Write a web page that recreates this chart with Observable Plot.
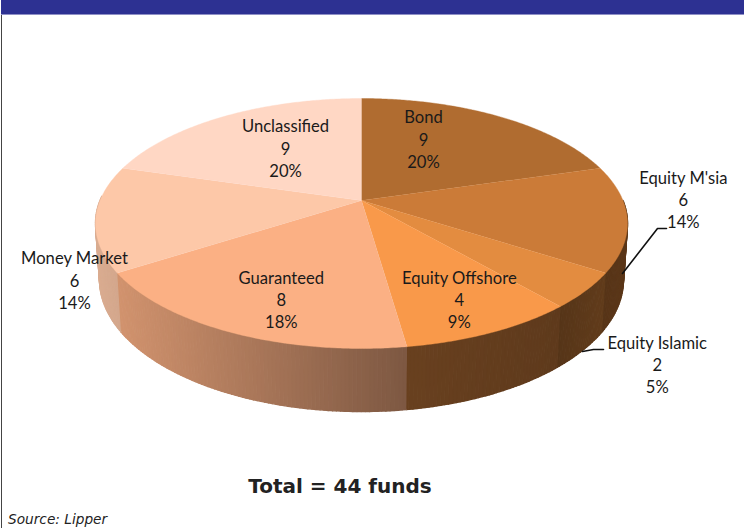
<!DOCTYPE html>
<html>
<head>
<meta charset="utf-8">
<script src="https://cdn.jsdelivr.net/npm/d3@7"></script>
<script src="https://cdn.jsdelivr.net/npm/@observablehq/plot@0.6"></script>
<style>
  html, body { margin: 0; padding: 0; background: #fff; }
  #page { position: relative; width: 744px; height: 528px; overflow: hidden; background: #fff; }
  #band { position: absolute; left: 1px; right: 0; top: 0; height: 14px; background: #2d3192; border-bottom: 1px solid #8f90c6; }
  #rule { position: absolute; left: 1px; top: 15px; bottom: 0; width: 1px; background: #444; }
  #chart { position: absolute; left: 0; top: 15px; }
  #chart svg { display: block; }
  #title { position: absolute; left: 0; width: 680px; top: 474px; text-align: center; font: bold 20px "DejaVu Sans", sans-serif; color: #222; white-space: pre; }
  #source { position: absolute; left: 8px; top: 511px; font: italic 13.7px "DejaVu Sans", sans-serif; color: #222; }
</style>
</head>
<body>
<div id="page">
  <div id="band"></div>
  <div id="rule"></div>
  <div id="chart"></div>
  <div id="title">Total = 44 funds</div>
  <div id="source">Source: Lipper</div>
</div>
<script>
// Chart values
const categories = ["Bond", "Equity M'sia", "Equity Islamic", "Equity Offshore", "Guaranteed", "Money Market", "Unclassified"];
const funds = [9, 6, 2, 4, 8, 6, 9];
const percents = [20, 14, 5, 9, 18, 14, 20];
const topColors = ["#b06c30", "#cb7b38", "#e38c40", "#f9994a", "#fbb084", "#fdc8a8", "#ffd7c4"];

// Drawing layout: the tilted disc, its base, and where each label sits in disc terms
const tilt = -0.184;
const topEllipse = {cx: 361, cy: 223, rx: 266, ry: 125};
const baseEllipse = {cx: 361, cy: 279, rx: 262, ry: 132};
const labelPolar = [[0.606, 25.5], [1.231, 90], [1.42, 140.5], [0.789, 155.7], [0.767, 200.3], [1.145, 238.6], [0.556, 325.5]];
const labelLift = -2;
const leaders = [
  [[622, 273], [657, 228], [666, 228]],
  [[582, 351], [593, 349], [603, 349]]
];
const sideShade = d3.scaleLinear().domain([95, 405, 407, 560, 625]).range([0.86, 0.5, 0.42, 0.38, 0.45]);

function project(e, r, deg) {
  const t = deg * Math.PI / 180, u = r * Math.sin(t), v = -r * Math.cos(t);
  const d = 1 + tilt * v;
  return {x: e.cx + e.rx * u * Math.sqrt(1 - tilt * tilt) / d, y: e.cy + e.ry * (v + tilt) / d};
}

const total = d3.sum(funds);
let running = 0;
const slices = funds.map((f, i) => {
  const start = running / total * 360;
  running += f;
  return {i, start, end: running / total * 360};
});

// Top faces
const topRows = [];
slices.forEach(s => {
  topRows.push({id: s.i, x: topEllipse.cx, y: project(topEllipse, 0, 0).y, c: topColors[s.i]});
  for (let a = s.start; ; a += 0.5) {
    const t = Math.min(a, s.end), p = project(topEllipse, 1, t);
    topRows.push({id: s.i, x: p.x, y: p.y, c: topColors[s.i]});
    if (a >= s.end) break;
  }
});

// Side wall: narrow quads, shaded across the width
const sideRows = [];
slices.forEach(s => {
  const from = Math.max(s.start, 90), to = Math.min(s.end, 272);
  if (from >= to) return;
  for (let a = from; a < to; a += 0.75) {
    const b = Math.min(a + 0.75, to);
    const p1 = project(topEllipse, 1, a), p2 = project(topEllipse, 1, b);
    const q2 = project(baseEllipse, 1, b), q1 = project(baseEllipse, 1, a);
    const base = d3.rgb(topColors[s.i]);
    const k = sideShade((p1.x + p2.x) / 2);
    const c = d3.rgb(base.r * k, base.g * k, base.b * k).formatHex();
    const id = s.i + "-" + a;
    [p1, p2, q2, q1].forEach(p => sideRows.push({id, x: p.x, y: p.y, c}));
  }
});

const labelRows = categories.map((name, i) => {
  const p = project(topEllipse, labelPolar[i][0], labelPolar[i][1]);
  return {x: p.x, y: p.y + labelLift, text: `${name}\n${funds[i]}\n${percents[i]}%`};
});
const leaderRows = leaders.flatMap((l, id) => l.map(([x, y]) => ({id, x, y})));

const plot = Plot.plot({
  width: 744,
  height: 455,
  margin: 0,
  x: {domain: [0, 744], range: [0, 744], axis: null},
  y: {domain: [15, 470], range: [0, 455], axis: null},
  color: {type: "identity"},
  marks: [
    Plot.line(sideRows, {x: "x", y: "y", z: "id", fill: "c", stroke: "c", strokeWidth: 1.4}),
    Plot.line(topRows, {x: "x", y: "y", z: "id", fill: "c", stroke: "c", strokeWidth: 0.4}),
    Plot.line(leaderRows, {x: "x", y: "y", z: "id", stroke: "#111", strokeWidth: 1.6}),
    Plot.text(labelRows, {x: "x", y: "y", text: "text", fontFamily: "Lato", fontSize: 16.6, lineHeight: 1.33, fill: "#1a1a1a"})
  ]
});
document.getElementById("chart").appendChild(plot);
</script>
</body>
</html>
